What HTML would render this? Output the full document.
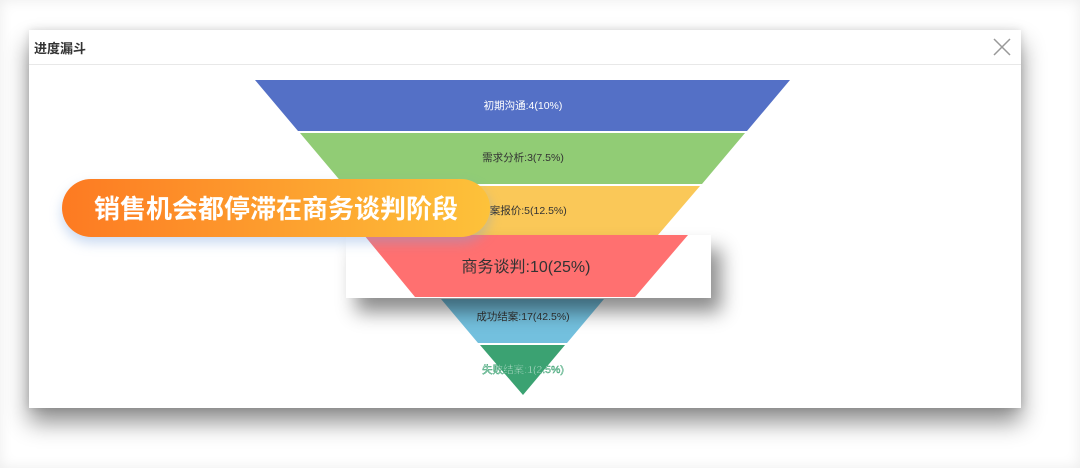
<!DOCTYPE html>
<html><head><meta charset="utf-8"><style>
body{margin:0;width:1080px;height:468px;background:#fff;position:relative;overflow:hidden;font-family:"Liberation Sans","Noto Sans CJK SC",sans-serif}
.frame{position:absolute;left:0;top:0;width:1080px;height:468px;box-shadow:inset 0 0 14px rgba(0,0,0,.08);pointer-events:none}
.panel{position:absolute;left:29px;top:30px;width:992px;height:378px;background:#fff;box-shadow:0 14px 22px rgba(0,0,0,.45),0 0 8px rgba(0,0,0,.12)}
.hdr{position:absolute;left:0;top:0;width:992px;height:34px;border-bottom:1px solid #e8e8e8}
.title{position:absolute;left:5px;top:8px;font-size:13px;font-weight:bold;color:#333}
.badge{position:absolute;left:62px;top:179px;width:428px;height:58px;border-radius:29px;background:linear-gradient(90deg,#fd7a22,#fdc23a);box-shadow:0 6px 12px rgba(120,160,220,.4);color:#fff;font-weight:bold;font-size:26px;line-height:58px;text-align:center;font-family:"Noto Sans CJK SC",sans-serif}
.pop{position:absolute;left:346px;top:235px;width:365px;height:63px;background:#fff;box-shadow:10px 14px 18px rgba(0,0,0,.45)}
</style></head><body>
<div class="frame"></div>
<div class="panel"><div class="hdr"><div class="title">进度漏斗</div>
<svg style="position:absolute;left:963px;top:7px" width="20" height="20"><path d="M2 2L18 18M18 2L2 18" stroke="#999" stroke-width="1.5"/></svg></div></div>
<svg style="position:absolute;left:0;top:0" width="1080" height="468" font-family="Liberation Sans,Noto Sans CJK SC,sans-serif">
<polygon points="255,80 790,80 747,131 298,131" fill="#5470c6"/>
<polygon points="300,133 745,133 702,184 343,184" fill="#91cc75"/>
<polygon points="345,186 700,186 658,235 387,235" fill="#fac858"/>
<polygon points="441,299 604,299 567,343 478,343" fill="#73c0de"/>
<polygon points="480,345 565,345 523,395" fill="#3ba272"/>
<text x="523" y="109" font-size="10.5" fill="#fff" text-anchor="middle">初期沟通:4(10%)</text>
<text x="523" y="161" font-size="10.5" fill="#333" text-anchor="middle">需求分析:3(7.5%)</text>
<text x="523" y="214" font-size="10.5" fill="#333" text-anchor="middle">方案报价:5(12.5%)</text>
<text x="523" y="320" font-size="10.5" fill="#333" text-anchor="middle">成功结案:17(42.5%)</text>
<text x="523" y="373" font-size="10.5" fill="#fff" stroke="#3ba272" stroke-width="0.5" text-anchor="middle">失败结案:1(2.5%)</text>
</svg>
<div class="pop"><svg width="365" height="63"><polygon points="18,0 342,0 289,62 69,62" fill="#ff7070"/><text x="180" y="37" font-size="16" fill="#333" text-anchor="middle" font-family="Liberation Sans,Noto Sans CJK SC,sans-serif">商务谈判:10(25%)</text></svg></div>
<div class="badge">销售机会都停滞在商务谈判阶段</div>
</body></html>
